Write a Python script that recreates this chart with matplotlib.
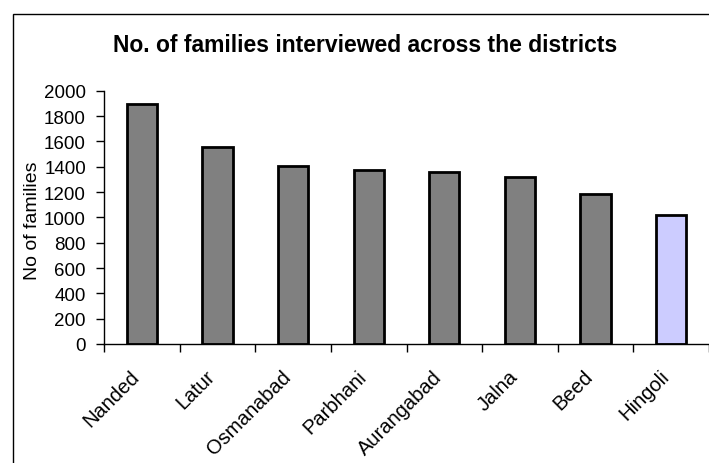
import numpy as np
import matplotlib.pyplot as plt
from matplotlib.patches import Rectangle

districts = ['Nanded', 'Latur', 'Osmanabad', 'Parbhani', 'Aurangabad',
             'Jalna', 'Beed', 'Hingoli']
families = [1895, 1553, 1403, 1372, 1360, 1321, 1182, 1018]
bar_colors = ['#808080'] * 7 + ['#ccccff']

plt.rcParams['font.family'] = ['Liberation Sans', 'DejaVu Sans']

fig = plt.figure(figsize=(7.09, 4.64), dpi=100)
ax = fig.add_axes([104 / 709, 1 - 345 / 464, 605 / 709, (345 - 91.7) / 464])

x = np.arange(len(districts))
ax.bar(x, families, width=0.4, color=bar_colors, edgecolor='black', linewidth=2)

ax.set_xlim(-0.5, len(districts) - 0.5)
ax.set_ylim(0, 2000)
ax.set_yticks(np.arange(0, 2001, 200))

# category boundaries get the tick marks, names sit just left of bar centres
ax.set_xticks(np.arange(-0.5, len(districts), 1.0))
ax.set_xticklabels([])
ax.set_xticks(x - 0.07, minor=True)
ax.set_xticklabels(districts, minor=True, rotation=45, ha='right', va='center',
                   rotation_mode='anchor', fontsize=14.5)
ax.tick_params(axis='x', which='minor', length=0, pad=21)
ax.tick_params(axis='x', which='major', length=6, width=1, direction='out')
ax.tick_params(axis='y', length=6, width=1, pad=7, labelsize=13.5)

for side in ['top', 'right']:
    ax.spines[side].set_visible(False)
for side in ['left', 'bottom']:
    ax.spines[side].set_linewidth(1)

ax.set_ylabel('No of families', fontsize=14)
ax.yaxis.set_label_coords(-0.104, 0.49)
fig.text(365 / 709, 1 - 45 / 464,
         'No. of families interviewed across the districts',
         ha='center', va='center', fontsize=16.5, fontweight='bold')

# outer chart border
fig.patches.append(Rectangle((13 / 709, -0.1), 1.0, 1 - 15 / 464 + 0.1,
                             transform=fig.transFigure, fill=False,
                             edgecolor='black', linewidth=1))

fig.savefig('out.png', dpi=100)
